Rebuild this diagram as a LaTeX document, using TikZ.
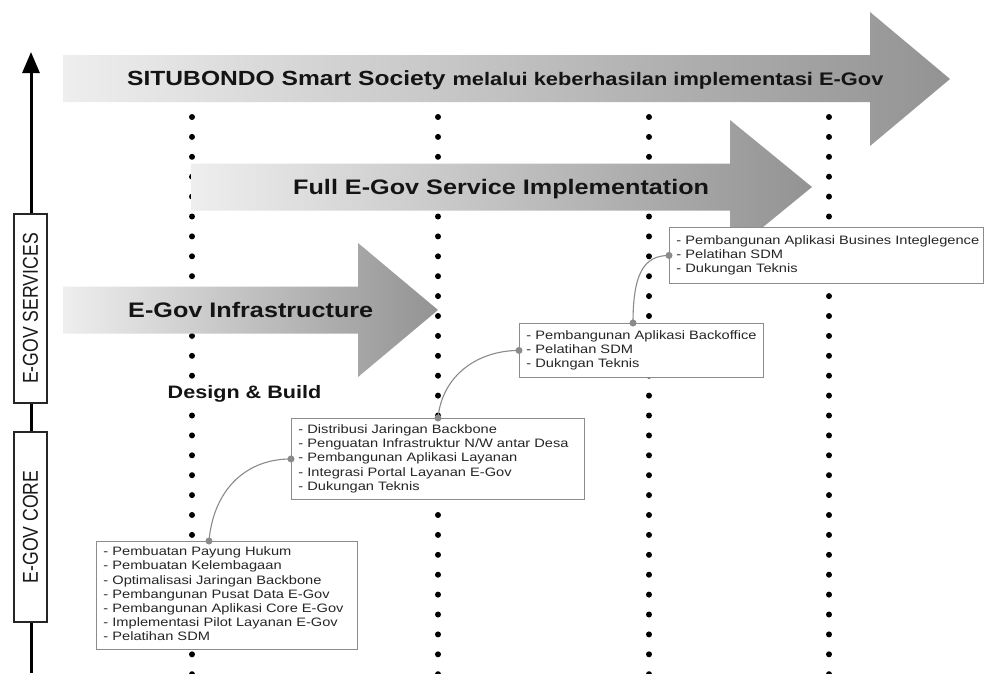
\documentclass[tikz,border=0pt]{standalone}
\usepackage{fontspec}
\setmainfont{Liberation Sans}[FakeStretch=1.2]
\newfontfamily\axisfont{Liberation Sans}[FakeStretch=0.82]
\usetikzlibrary{arrows.meta,calc}

\definecolor{linkc}{HTML}{8A8A8A}
\definecolor{boxline}{HTML}{8C8C8C}
\definecolor{listtext}{HTML}{262626}
\definecolor{shadeL}{HTML}{EEEEEE}
\definecolor{shadeR}{HTML}{939393}

\tikzset{
  phasearrow/.style={left color=shadeL, right color=shadeR, draw=none},
  phasetext/.style={anchor=base west, inner sep=0pt, text=black!92},
  listbox/.style={draw=boxline, line width=0.9pt, fill=white, anchor=north west,
    align=left, inner xsep=7pt, inner ysep=0pt, text=listtext,
    font=\fontsize{12.2}{14.2}\selectfont},
  axisbox/.style={draw=black!85, line width=1.2pt, fill=white, rotate=90,
    inner sep=0pt, minimum height=33pt, text=black!90,
    font=\axisfont\fontsize{21.5}{24}\selectfont},
  link/.style={draw=linkc, line width=1.1pt},
  linkdot/.style={fill=linkc},
  coldot/.style={fill=black},
}

\begin{document}
\begin{tikzpicture}[x=1pt,y=-1pt]
  \fill[white] (0,0) rectangle (984,673);
  \useasboundingbox (0,0) rectangle (984,673);

  % dotted phase columns
  \foreach \cx in {192,438,649,829}{
    \foreach \k in {0,...,28}{
      \fill[coldot] (\cx,{117+19.9*\k}) circle (3);
    }
  }

  % phase arrows
  \shade[phasearrow] (63,55) -- (870,55) -- (870,12) -- (950,79) -- (870,146)
    -- (870,102) -- (63,102) -- cycle;
  \shade[phasearrow] (191,163.5) -- (730,163.5) -- (730,120) -- (812,187)
    -- (730,254) -- (730,210.5) -- (191,210.5) -- cycle;
  \shade[phasearrow] (63,286.5) -- (358,286.5) -- (358,243) -- (438,310)
    -- (358,377) -- (358,333.5) -- (63,333.5) -- cycle;

  \node[phasetext] (t1) at (127,85)
    {\fontsize{20.5}{24}\selectfont\bfseries SITUBONDO Smart Society
     {\fontsize{18.2}{22}\selectfont melalui keberhasilan implementasi E-Gov}};
  \node[phasetext, font=\fontsize{21}{25}\selectfont\bfseries] (t2) at (293,194.5)
    {Full E-Gov Service Implementation};
  \node[phasetext, font=\fontsize{21}{25}\selectfont\bfseries] (t3) at (128,317)
    {E-Gov Infrastructure};

  % vertical axis
  \coordinate (axisbottom) at (31,673);
  \coordinate (axistop) at (31,52);
  \draw[line width=3pt, -{Triangle[length=21pt,width=17pt]}] (axisbottom) -- (axistop);
  \node[axisbox, minimum width=189pt] (svc) at (30.5,308.5) {E-GOV SERVICES};
  \node[axisbox, minimum width=190pt] (core) at (30.5,527) {E-GOV CORE};

  \node[phasetext, fill=white, inner sep=1.5pt, font=\fontsize{18}{22}\selectfont\bfseries]
    (db) at (166,398) {Design \& Build};

  % activity lists
  \node[listbox, text width=247pt, minimum height=108pt] (b1) at (96,541)
    {\begin{tabular}{@{}l@{}}
     - Pembuatan Payung Hukum\\
     - Pembuatan Kelembagaan\\
     - Optimalisasi Jaringan Backbone\\
     - Pembangunan Pusat Data E-Gov\\
     - Pembangunan Aplikasi Core E-Gov\\
     - Implementasi Pilot Layanan E-Gov\\
     - Pelatihan SDM
     \end{tabular}};
  \node[listbox, text width=279pt, minimum height=81pt] (b2) at (291,418)
    {\begin{tabular}{@{}l@{}}
     - Distribusi Jaringan Backbone\\
     - Penguatan Infrastruktur N/W antar Desa\\
     - Pembangunan Aplikasi Layanan\\
     - Integrasi Portal Layanan E-Gov\\
     - Dukungan Teknis
     \end{tabular}};
  \node[listbox, text width=230pt, minimum height=54pt] (b3) at (519,323)
    {\begin{tabular}{@{}l@{}}
     - Pembangunan Aplikasi Backoffice\\
     - Pelatihan SDM\\
     - Dukngan Teknis
     \end{tabular}};
  \node[listbox, text width=300pt, minimum height=56pt] (b4) at (669,227)
    {\begin{tabular}{@{}l@{}}
     - Pembangunan Aplikasi Busines Integlegence\\
     - Pelatihan SDM\\
     - Dukungan Teknis
     \end{tabular}};

  % links between successive lists
  \coordinate (b1top) at ($(b1.north west)+(113,0)$);
  \coordinate (b2top) at ($(b2.north west)+(147,0)$);
  \coordinate (b3top) at ($(b3.north west)+(114,0)$);
  \draw[link] (b1top) .. controls +(4,-48) and +(-48,0) .. (b2.west);
  \draw[link] (b2top) .. controls +(4,-42) and +(-42,0) .. (b3.west);
  \draw[link] (b3top) .. controls +(0,-48) and +(-26,0) .. (b4.west);
  \foreach \p in {b1top,b2top,b3top,b2.west,b3.west,b4.west}{
    \fill[linkdot] (\p) circle (3.5);
  }
\end{tikzpicture}
\end{document}
